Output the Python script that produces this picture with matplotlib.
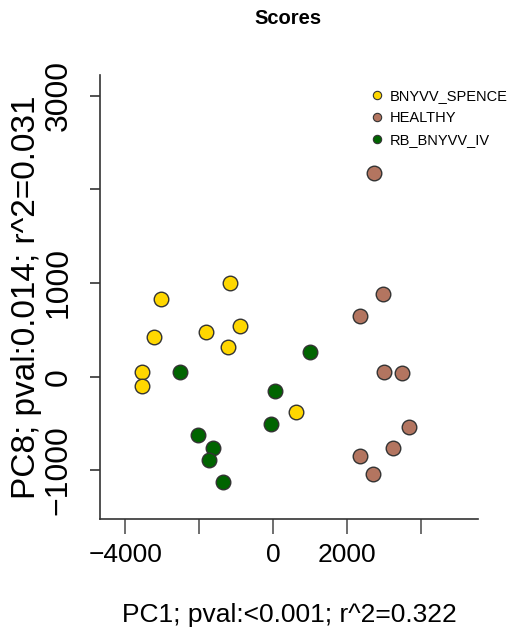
import matplotlib
matplotlib.use("Agg")
import matplotlib.pyplot as plt
from matplotlib.lines import Line2D

# scores (PC1, PC8)
groups = ["BNYVV_SPENCE", "HEALTHY", "RB_BNYVV_IV"]
colors = ["#FFD700", "#B37560", "#006400"]

spence_pc1 = [-3030, -3220, -3550, -3550, -1820, -1160, -900, -1230, 600]
spence_pc8 = [830, 420, 50, -100, 480, 1000, 540, 320, -380]

healthy_pc1 = [2730, 2970, 2340, 3000, 3470, 3680, 3240, 2350, 2690]
healthy_pc8 = [2170, 880, 650, 50, 40, -540, -760, -850, -1040]

rb_pc1 = [-2520, -2030, -1640, -1730, -1350, 990, 50, -50]
rb_pc8 = [50, -620, -760, -890, -1120, 260, -150, -510]

xticks = [-4000, -2000, 0, 2000, 4000]
xticklabels = ["\u22124000", "", "0", "2000", ""]
yticks = [-1000, 0, 1000, 2000, 3000]
yticklabels = ["\u22121000", "0", "1000", "", "3000"]

font = ["Liberation Sans", "DejaVu Sans"]

fig = plt.figure(figsize=(5.11, 6.34), dpi=100)
ax = fig.add_axes([0.1957, 0.1814, 0.7397, 0.7003])

data = [(spence_pc1, spence_pc8), (healthy_pc1, healthy_pc8), (rb_pc1, rb_pc8)]
for (xs, ys), c in zip(data, colors):
    ax.scatter(xs, ys, s=110, c=c, edgecolors="#333333", linewidths=1.0, zorder=3)

ax.set_xlim(-4684, 5532)
ax.set_ylim(-1519, 3220)

for side in ["top", "right"]:
    ax.spines[side].set_visible(False)
for side in ["left", "bottom"]:
    ax.spines[side].set_color("#333333")
    ax.spines[side].set_linewidth(1.2)

ax.set_xticks(xticks)
ax.set_xticklabels(xticklabels, fontsize=19, family=font)
ax.set_yticks(yticks)
ax.set_yticklabels(yticklabels, fontsize=23, family=font, rotation=90, va="center")
ax.tick_params(axis="x", length=11, width=1.2, color="#555555", pad=6)
ax.tick_params(axis="y", length=7, width=1.2, color="#333333", pad=12)

ax.set_xlabel("PC1; pval:<0.001; r^2=0.322", fontsize=19, family=font, labelpad=26)
ax.set_ylabel("PC8; pval:0.014; r^2=0.031", fontsize=24, family=font)
ax.yaxis.set_label_coords(-0.153, 0.5)

fig.text(0.564, 0.971, "Scores", fontsize=14.5, fontweight="bold", family=font,
         ha="center", va="center")

handles = [Line2D([], [], marker="o", linestyle="", markersize=6, markerfacecolor=c,
                  markeredgecolor="#333333", markeredgewidth=0.8) for c in colors]
ax.legend(handles, groups, loc="upper left", bbox_to_anchor=(0.713, 0.968),
          frameon=False, prop={"family": font, "size": 10.5},
          handletextpad=0.4, labelspacing=0.55, handlelength=1.0,
          borderaxespad=0, borderpad=0)

fig.savefig("out.png", dpi=100)
